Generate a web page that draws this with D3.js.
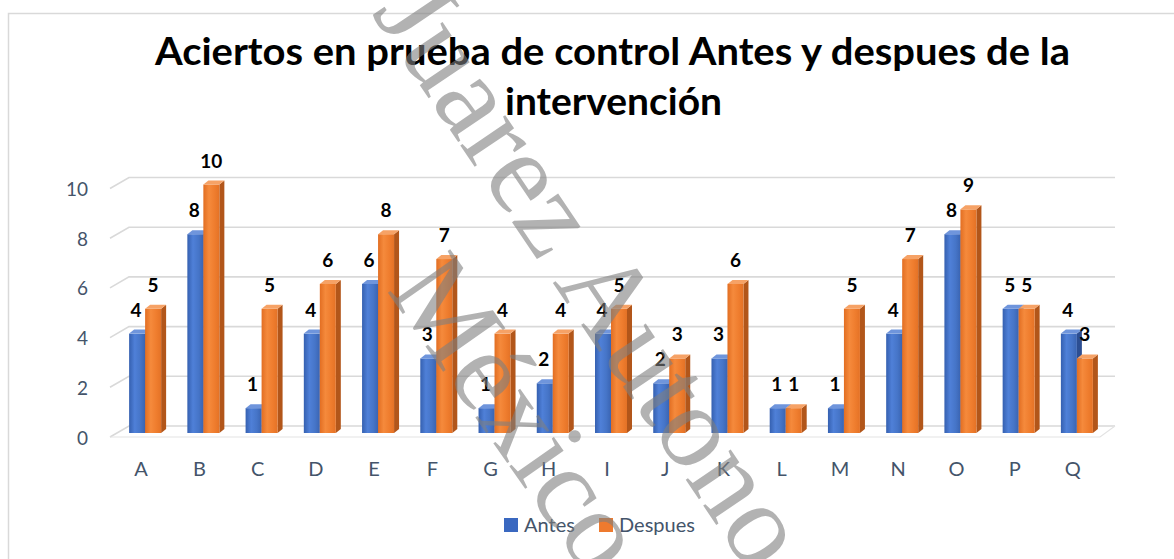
<!DOCTYPE html>
<html>
<head>
<meta charset="utf-8">
<script src="https://cdn.jsdelivr.net/npm/d3@7"></script>
<style>
  html, body { margin: 0; padding: 0; background: #fff; }
  svg { display: block; }
</style>
</head>
<body>
<svg id="chart" width="1174" height="559"></svg>
<script>
// ---- data ----
const categories = ["A","B","C","D","E","F","G","H","I","J","K","L","M","N","O","P","Q"];
const antes   = [4, 8, 1, 4, 6, 3, 1, 2, 4, 2, 3, 1, 1, 4, 8, 5, 4];
const despues = [5,10, 5, 6, 8, 7, 4, 4, 5, 3, 6, 1, 5, 7, 9, 5, 3];
const seriesNames = ["Antes", "Despues"];
const yTicks = [0, 2, 4, 6, 8, 10];
const titleLines = ["Aciertos en prueba de control Antes y despues de la", "intervención"];
const watermarkLines = ["Juarez Autono", "México"];

// ---- setup ----
const svg = d3.select("#chart");
const W = 1174, H = 559;
const fontSans = "Lato, 'Open Sans', 'Noto Sans', sans-serif";
const axisColor = "#44546a";

const x = d3.scaleBand().domain(categories).range([112, 1102]);
const y = d3.scaleLinear().domain([0, 10]).range([433, 184.5]);
const cx = d => x(d) + x.bandwidth() / 2;

const barW = 16, dx = 5, dy = 4;

// gradients
const defs = svg.append("defs");
function grad(id, stops) {
  const g = defs.append("linearGradient").attr("id", id)
    .attr("x1", "0%").attr("x2", "100%").attr("y1", "0%").attr("y2", "0%");
  stops.forEach(s => g.append("stop").attr("offset", s[0]).attr("stop-color", s[1]));
}
grad("blueFront", [["0%", "#3560b0"], ["35%", "#4f80d8"], ["70%", "#4675c8"], ["100%", "#3a64b2"]]);
grad("orangeFront", [["0%", "#e26e22"], ["35%", "#f58a3c"], ["70%", "#ef7d2e"], ["100%", "#e47226"]]);

const colors = {
  Antes:   { front: "url(#blueFront)", top: "#6f95dc", side: "#2c4e92", legend: "#3a68c0" },
  Despues: { front: "url(#orangeFront)", top: "#f6a266", side: "#b2561a", legend: "#ee7a2e" }
};

// chart border
svg.append("path")
  .attr("d", `M8.5,${H} L8.5,13.5 L${W},13.5`)
  .attr("fill", "none").attr("stroke", "#d9d9d9").attr("stroke-width", 1.5);

// title
svg.append("text").attr("x", 612.5).attr("y", 65)
  .attr("text-anchor", "middle")
  .attr("font-family", fontSans).attr("font-weight", 700).attr("font-size", 38)
  .attr("textLength", 915).attr("lengthAdjust", "spacingAndGlyphs")
  .attr("fill", "#000").text(titleLines[0]);
svg.append("text").attr("x", 613.5).attr("y", 115)
  .attr("text-anchor", "middle")
  .attr("font-family", fontSans).attr("font-weight", 700).attr("font-size", 38)
  .attr("textLength", 217).attr("lengthAdjust", "spacingAndGlyphs")
  .attr("fill", "#000").text(titleLines[1]);

// gridlines (3D back wall + left wall edge)
const gridG = svg.append("g");
yTicks.forEach(v => {
  const yb = y(v) - 7, yf = y(v) + 4;
  gridG.append("path")
    .attr("d", `M110,${yf} L129,${yb} L1115,${yb}`)
    .attr("fill", "none").attr("stroke", "#d9d9d9").attr("stroke-width", 1.6);
});
// floor front edge
gridG.append("path")
  .attr("d", `M110,${y(0) + 4} L1100,${y(0) + 4} L1115,${y(0) - 7}`)
  .attr("fill", "none").attr("stroke", "#e3e3e3").attr("stroke-width", 1.2);

// y axis labels
svg.append("g").selectAll("text").data(yTicks).join("text")
  .attr("x", 88).attr("y", d => y(d) + 11.5)
  .attr("text-anchor", "end")
  .attr("font-family", fontSans).attr("font-size", 19)
  .attr("fill", axisColor).text(d => d);

// x axis labels
svg.append("g").selectAll("text").data(categories).join("text")
  .attr("x", d => cx(d)).attr("y", 476)
  .attr("text-anchor", "middle")
  .attr("font-family", fontSans).attr("font-size", 20)
  .attr("fill", axisColor).text(d => d);

// bars
function drawBar(g, x0, v, c) {
  const yt = y(v), yb = y(0);
  g.append("polygon")
    .attr("points", `${x0 + barW},${yt} ${x0 + barW + dx},${yt - dy} ${x0 + barW + dx},${yb - dy} ${x0 + barW},${yb}`)
    .attr("fill", c.side);
  g.append("rect").attr("x", x0).attr("y", yt).attr("width", barW).attr("height", yb - yt)
    .attr("fill", c.front);
  g.append("polygon")
    .attr("points", `${x0},${yt} ${x0 + dx},${yt - dy} ${x0 + barW + dx},${yt - dy} ${x0 + barW},${yt}`)
    .attr("fill", c.top);
}
const barsG = svg.append("g");
categories.forEach((cat, i) => {
  const c = cx(cat);
  const g = barsG.append("g");
  drawBar(g, c - 12, antes[i], colors.Antes);
  drawBar(g, c + 4, despues[i], colors.Despues);
});

// data labels
const labelG = svg.append("g")
  .attr("font-family", fontSans).attr("font-weight", 700).attr("font-size", 19).attr("fill", "#000")
  .attr("text-anchor", "middle");
categories.forEach((cat, i) => {
  const c = cx(cat);
  labelG.append("text").attr("x", c - 5).attr("y", y(antes[i]) - 17).text(antes[i]);
  labelG.append("text").attr("x", c + 12).attr("y", y(despues[i]) - 17).text(despues[i]);
});

// legend
const legend = svg.append("g");
const legendItems = [
  { name: seriesNames[0], x: 504, color: colors.Antes.legend },
  { name: seriesNames[1], x: 599, color: colors.Despues.legend }
];
legendItems.forEach(it => {
  legend.append("rect").attr("x", it.x).attr("y", 518).attr("width", 14).attr("height", 14).attr("fill", it.color);
  legend.append("text").attr("x", it.x + 20).attr("y", 532)
    .attr("font-family", fontSans).attr("font-size", 20).attr("fill", axisColor).text(it.name);
});

// watermark
const wm = svg.append("g")
  .attr("font-family", "'Liberation Serif', 'DejaVu Serif', serif")
  .attr("fill", "#7f7f7f").attr("fill-opacity", 0.6);
wm.append("text").attr("transform", "translate(371,13) rotate(56)").attr("font-size", 118).text(watermarkLines[0]);
wm.append("text").attr("transform", "translate(386,290) rotate(55)").attr("font-size", 116).text(watermarkLines[1]);
</script>
</body>
</html>
